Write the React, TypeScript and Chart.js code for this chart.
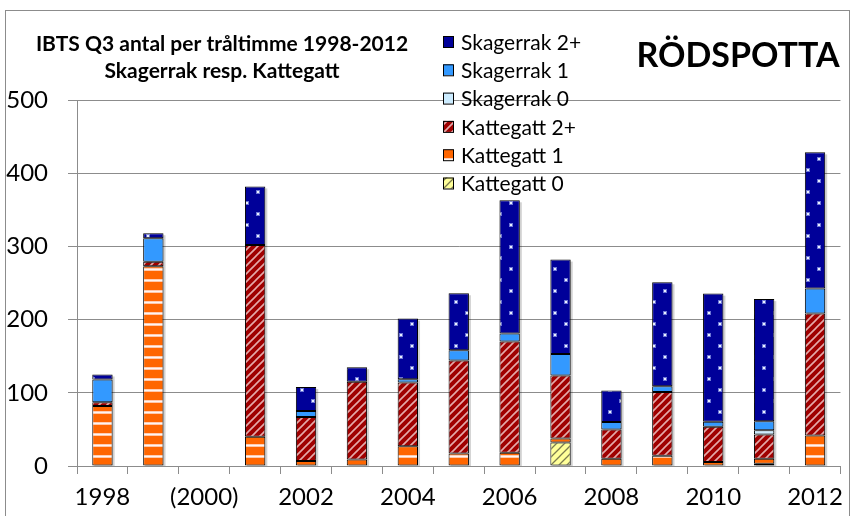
import React, { useEffect, useRef } from "react";
import { Chart, registerables } from "chart.js";
Chart.register(...registerables);

const years = ["1998", "1999", "2000", "2001", "2002", "2003", "2004", "2005", "2006", "2007", "2008", "2009", "2010", "2011", "2012"];
const xTickLabels = ["1998", "", "(2000)", "", "2002", "", "2004", "", "2006", "", "2008", "", "2010", "", "2012"];
const yMin = 0;
const yMax = 500;
const yStep = 100;

const kattegatt0 = [null, null, null, null, null, null, null, null, null, 32, null, null, null, 3, null];
const kattegatt1 = [82, 273, null, 40, 7, 9, 27, 17, 18, 5.5, 10, 14, 5.5, 7, 41.5];
const kattegatt2 = [5, 6, null, 262, 60, 106, 87, 127, 152, 86, 40, 87, 48, 33, 167];
const skagerrak0 = [null, null, null, null, null, null, null, null, null, null, null, null, null, 6, null];
const skagerrak1 = [31, 32, null, null, 8, null, 4.5, 14, 11, 29.5, 10, 8, 7, 12, 34];
const skagerrak2 = [7, 7, null, 80, 33, 20, 83, 78, 182, 129, 43, 142, 175, 167, 186];

const titleLine1 = "IBTS Q3 antal per tråltimme 1998-2012";
const titleLine2 = "Skagerrak resp. Kattegatt";
const speciesTitle = "RÖDSPOTTA";

const FONT = "Lato, 'Open Sans', sans-serif";
const GRID = "#8c8c8c";

function makePattern(w: number, h: number, draw: (c: CanvasRenderingContext2D) => void) {
  const cv = document.createElement("canvas");
  cv.width = w;
  cv.height = h;
  const c = cv.getContext("2d")!;
  draw(c);
  return c.createPattern(cv, "repeat")!;
}

export default function App() {
  const ref = useRef<HTMLCanvasElement | null>(null);

  useEffect(() => {
    document.body.style.margin = "0";
    const canvas = ref.current!;

    const pSk2 = makePattern(22, 22, (c) => {
      c.fillStyle = "#000099";
      c.fillRect(0, 0, 22, 22);
      c.fillStyle = "rgba(120,130,220,0.9)";
      c.fillRect(3, 3, 4, 4);
      c.fillRect(14, 14, 4, 4);
      c.fillStyle = "rgba(235,240,255,1)";
      c.fillRect(4, 4, 2, 2);
      c.fillRect(15, 15, 2, 2);
    });
    const pSk1 = "#3399ff";
    const pSk0 = "#ccecff";
    const pK2 = makePattern(8, 8, (c) => {
      c.fillStyle = "#a00000";
      c.fillRect(0, 0, 8, 8);
      c.strokeStyle = "rgba(240,200,200,0.85)";
      c.lineWidth = 1.6;
      c.beginPath();
      c.moveTo(-2, 10);
      c.lineTo(10, -2);
      c.moveTo(-6, 6);
      c.lineTo(6, -6);
      c.moveTo(2, 14);
      c.lineTo(14, 2);
      c.stroke();
    });
    const pK1 = makePattern(4, 11, (c) => {
      c.fillStyle = "#ff6600";
      c.fillRect(0, 0, 4, 11);
      c.fillStyle = "rgba(255,205,180,1)";
      c.fillRect(0, 4, 4, 1);
      c.fillStyle = "rgba(255,245,240,1)";
      c.fillRect(0, 5, 4, 1);
      c.fillStyle = "rgba(255,200,170,1)";
      c.fillRect(0, 6, 4, 1);
    });
    const pK0 = makePattern(8, 8, (c) => {
      c.fillStyle = "#ffff99";
      c.fillRect(0, 0, 8, 8);
      c.strokeStyle = "rgba(90,90,60,0.8)";
      c.lineWidth = 1.3;
      c.beginPath();
      c.moveTo(-2, 10);
      c.lineTo(10, -2);
      c.moveTo(-6, 6);
      c.lineTo(6, -6);
      c.moveTo(2, 14);
      c.lineTo(14, 2);
      c.stroke();
    });

    const series = [
      { label: "Kattegatt 0", data: kattegatt0, fill: pK0 },
      { label: "Kattegatt 1", data: kattegatt1, fill: pK1 },
      { label: "Kattegatt 2+", data: kattegatt2, fill: pK2 },
      { label: "Skagerrak 0", data: skagerrak0, fill: pSk0 },
      { label: "Skagerrak 1", data: skagerrak1, fill: pSk1 },
      { label: "Skagerrak 2+", data: skagerrak2, fill: pSk2 },
    ];

    const shadowPlugin = {
      id: "stackShadow",
      beforeDatasetsDraw(chart: any) {
        const ctx = chart.ctx;
        const ys = chart.scales.y;
        ctx.save();
        for (let i = 0; i < years.length; i++) {
          let total = 0;
          let el: any = null;
          series.forEach((s, j) => {
            const v = s.data[i];
            if (v != null) {
              total += v as number;
              el = chart.getDatasetMeta(j).data[i];
            }
          });
          if (!el || total <= 0) continue;
          const top = ys.getPixelForValue(total);
          const bottom = ys.getPixelForValue(0);
          ctx.fillStyle = "rgba(0,0,0,0.18)";
          ctx.fillRect(el.x - el.width / 2 + 2, top + 2, el.width, bottom - top - 2);
        }
        ctx.restore();
      },
    };

    const decorPlugin = {
      id: "decor",
      afterDraw(chart: any) {
        const ctx = chart.ctx;
        ctx.save();
        ctx.strokeStyle = GRID;
        ctx.lineWidth = 1;
        ctx.strokeRect(5.5, 10.5, 844, 520);
        ctx.fillStyle = "#000";
        ctx.textAlign = "center";
        ctx.textBaseline = "middle";
        ctx.font = `bold 21px ${FONT}`;
        ctx.fillText(titleLine1, 222, 44);
        ctx.fillText(titleLine2, 222, 71);
        ctx.font = `bold 34px ${FONT}`;
        ctx.fillText(speciesTitle, 738, 56);
        ctx.textAlign = "left";
        ctx.font = `21px ${FONT}`;
        const items = [...series].reverse();
        items.forEach((s, k) => {
          const cy = 42 + k * 28.3;
          ctx.fillStyle = s.fill as any;
          ctx.fillRect(443, cy - 6, 10, 11);
          ctx.strokeStyle = "#000";
          ctx.lineWidth = 1;
          ctx.strokeRect(443.5, cy - 5.5, 10, 11);
          ctx.fillStyle = "#000";
          ctx.fillText(s.label, 461, cy + 1);
        });
        ctx.restore();
      },
    };

    const chart = new Chart(canvas, {
      type: "bar",
      data: {
        labels: years,
        datasets: series.map((s) => ({
          label: s.label,
          data: s.data as any,
          backgroundColor: s.fill as any,
          borderColor: "#000",
          borderWidth: 1,
          borderSkipped: false,
          barPercentage: 0.4,
          categoryPercentage: 1,
        })),
      },
      options: {
        animation: false,
        responsive: false,
        maintainAspectRatio: false,
        layout: { padding: { left: 0, right: 4, top: 100, bottom: 0 } },
        plugins: {
          legend: { display: false },
          tooltip: { enabled: false },
          title: { display: false },
        },
        scales: {
          x: {
            stacked: true,
            offset: true,
            grid: { offset: true, drawOnChartArea: false, drawTicks: true, tickLength: 8, color: GRID },
            border: { display: true, color: GRID },
            ticks: {
              autoSkip: false,
              maxRotation: 0,
              minRotation: 0,
              padding: 9,
              color: "#000",
              font: { family: FONT, size: 24 },
              callback: (_v: any, i: number) => xTickLabels[i],
            },
            afterFit: (s: any) => {
              s.height = 50;
            },
          },
          y: {
            stacked: true,
            min: yMin,
            max: yMax,
            ticks: { stepSize: yStep, padding: 20, color: "#000", font: { family: FONT, size: 24 } },
            grid: { color: GRID, tickLength: 9 },
            border: { display: true, color: GRID },
            afterFit: (s: any) => {
              s.width = 77;
            },
          },
        },
      },
      plugins: [shadowPlugin, decorPlugin],
    });

    return () => chart.destroy();
  }, []);

  return <canvas ref={ref} width={852} height={516} style={{ display: "block" }} />;
}
